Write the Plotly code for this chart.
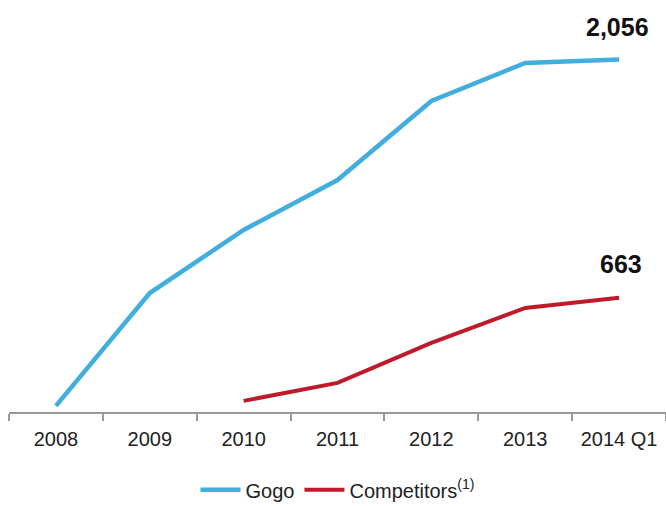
import plotly.graph_objects as go

categories = ["2008", "2009", "2010", "2011", "2012", "2013", "2014 Q1"]
gogo = [30, 690, 1059, 1351, 1814, 2036, 2056]
comp_categories = ["2010", "2011", "2012", "2013", "2014 Q1"]
competitors = [59, 164, 398, 603, 663]

BLUE = "#41AEDD"
RED = "#BE1A2C"
FONT = "Liberation Sans Narrow, Arial Narrow, Liberation Sans, Arial, sans-serif"

fig = go.Figure()
fig.add_trace(go.Scatter(x=categories, y=gogo, mode="lines", name="Gogo",
                         line=dict(color=BLUE, width=4.5)))
fig.add_trace(go.Scatter(x=comp_categories, y=competitors, mode="lines",
                         name="Competitors<sup>(1)</sup>",
                         line=dict(color=RED, width=4)))

fig.add_annotation(x=categories[-1], y=gogo[-1], text="<b>2,056</b>", showarrow=False,
                   yshift=33, xshift=-2, font=dict(family=FONT, size=25, color="#111"))
fig.add_annotation(x=comp_categories[-1], y=competitors[-1], text="<b>663</b>", showarrow=False,
                   yshift=34, xshift=2, font=dict(family=FONT, size=25, color="#111"))

fig.update_layout(
    width=666, height=506,
    margin=dict(l=9, r=0, t=10, b=94, autoexpand=False),
    paper_bgcolor="white", plot_bgcolor="white",
    showlegend=True,
    legend=dict(orientation="h", x=0.5, xanchor="center", yref="container",
                y=0.032, yanchor="middle",
                font=dict(family=FONT, size=20, color="#222"), itemwidth=40,
                tracegroupgap=0),
    xaxis=dict(type="category", categoryorder="array", categoryarray=categories,
               range=[-0.5, 6.5], automargin=False,
               showline=True, linecolor="#999", linewidth=1.5,
               ticks="outside", tickson="boundaries", ticklen=7, tickcolor="#999",
               tickwidth=1.5, showgrid=False, zeroline=False, ticklabelstandoff=8,
               tickfont=dict(family=FONT, size=20, color="#222")),
    yaxis=dict(range=[-6, 2346], visible=False, showgrid=False, zeroline=False),
)

fig.write_html("out.html")
